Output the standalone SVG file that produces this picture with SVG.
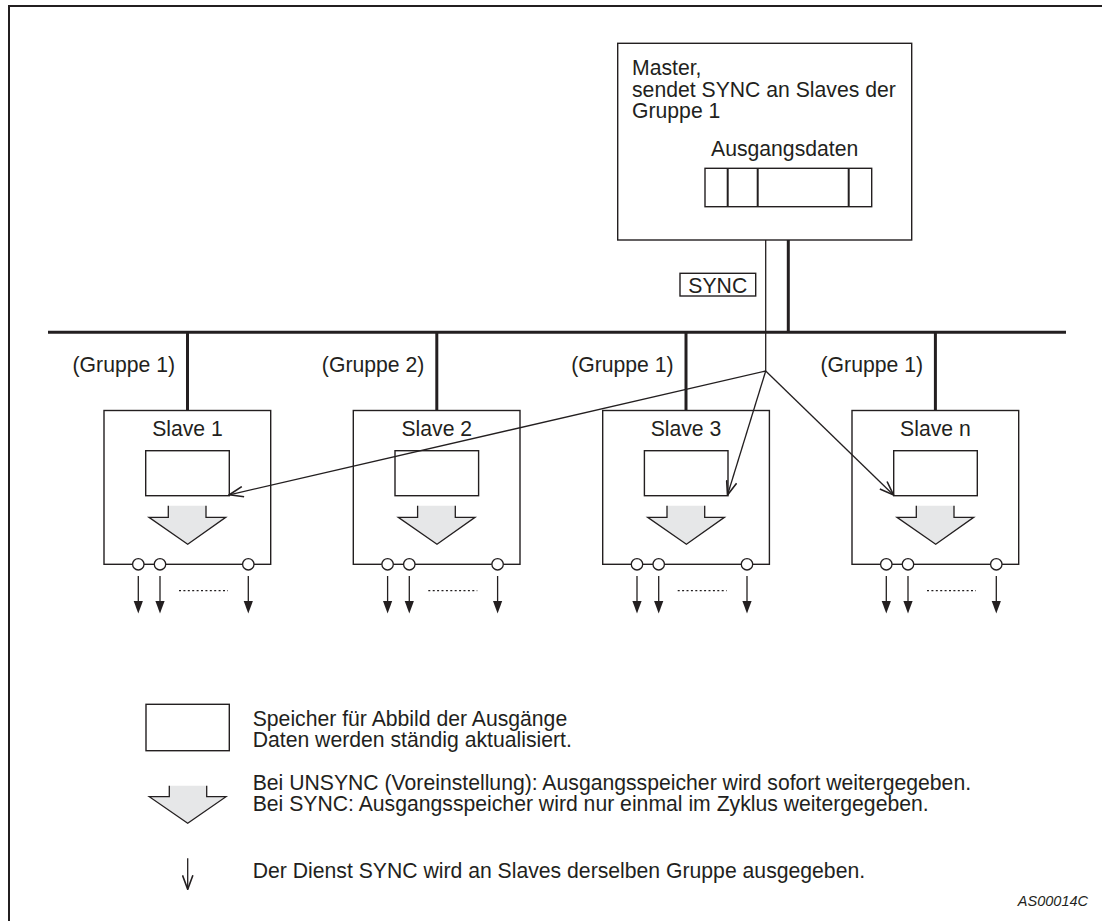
<svg xmlns="http://www.w3.org/2000/svg" width="1102" height="921" viewBox="0 0 1102 921">
  <style>
    text { font-family: "Liberation Sans", Arial, sans-serif; font-size: 21.2px; fill: #231f20; }
    .box { fill: #fff; stroke: #231f20; stroke-width: 1.4; }
    .thin { fill: none; stroke: #231f20; stroke-width: 1.3; }
    .thick { fill: none; stroke: #231f20; stroke-width: 3; }
    .div { fill: none; stroke: #231f20; stroke-width: 2; }
    .fill { fill: #e6e7e8; stroke: none; }
    .io { fill: #fff; stroke: #231f20; stroke-width: 1.3; }
    .dots { fill: none; stroke: #231f20; stroke-width: 1.2; stroke-dasharray: 2 2.4; }
    .mid { text-anchor: middle; }
    .end { text-anchor: end; }
  </style>
  <defs>
    <marker id="open" viewBox="0 0 16 12" refX="15" refY="6" markerWidth="16" markerHeight="12" markerUnits="userSpaceOnUse" orient="auto">
      <path d="M1,0.8 L15,6 L1,11.2" fill="none" stroke="#231f20" stroke-width="1.6"/>
    </marker>
    <!-- output terminal: down arrow -->
    <g id="out">
      <line x1="0" y1="576" x2="0" y2="602" class="thin" stroke-width="1.8"/>
      <path d="M-4.6,601 L4.6,601 L0,613.5 Z" fill="#231f20"/>
    </g>
    <!-- slave body drawn at origin x=0 -->
    <g id="slaveBody">
      <rect x="0" y="410.5" width="166.7" height="153.8" class="box"/>
      <rect x="41.7" y="450.7" width="83.6" height="45" class="box"/>
      <path d="M64.3,505.7 L64.3,517.3 L45,517.3 L83.7,544.3 L121.7,517.3 L102,517.3 L102,505.7 Z" class="fill"/>
      <path d="M64.3,505.7 L64.3,517.3 L45,517.3 L83.7,544.3 L121.7,517.3 L102,517.3 L102,505.7" class="thin"/>
      <use href="#out" x="34.3"/>
      <use href="#out" x="56"/>
      <use href="#out" x="144.3"/>
      <circle cx="34.3" cy="564.3" r="5.7" class="io"/>
      <circle cx="56" cy="564.3" r="5.7" class="io"/>
      <circle cx="144.3" cy="564.3" r="5.7" class="io"/>
      <line x1="75" y1="590.7" x2="124" y2="590.7" class="dots"/>
    </g>
  </defs>

  <!-- frame -->
  <path d="M9,921 L9,6 L1102,6" fill="none" stroke="#231f20" stroke-width="2"/>

  <!-- master -->
  <g id="master">
    <rect x="617.7" y="43.3" width="294" height="196.7" class="box"/>
    <text x="632" y="75">Master,</text>
    <text x="632" y="96.5">sendet SYNC an Slaves der</text>
    <text x="632" y="117.5">Gruppe 1</text>
    <text x="711" y="156">Ausgangsdaten</text>
    <rect x="705" y="168.3" width="166.7" height="38.4" class="box"/>
    <line x1="727.7" y1="168.3" x2="727.7" y2="206.7" class="div"/>
    <line x1="757.7" y1="168.3" x2="757.7" y2="206.7" class="div"/>
    <line x1="848.7" y1="168.3" x2="848.7" y2="206.7" class="div"/>
  </g>

  <!-- bus and drops -->
  <g id="connectors">
    <line x1="48" y1="332.3" x2="1066" y2="332.3" class="thick"/>
    <line x1="788.3" y1="240" x2="788.3" y2="332.3" class="thick"/>
    <line x1="765.7" y1="240" x2="765.7" y2="371" class="thin"/>
    <line x1="187.5" y1="332.3" x2="187.5" y2="410.5" class="thick"/>
    <line x1="436.8" y1="332.3" x2="436.8" y2="410.5" class="thick"/>
    <line x1="686" y1="332.3" x2="686" y2="410.5" class="thick"/>
    <line x1="935.4" y1="332.3" x2="935.4" y2="410.5" class="thick"/>
  </g>

  <!-- SYNC tag -->
  <g id="sync">
    <rect x="680" y="273.3" width="75.7" height="22.7" class="box"/>
    <text x="717.8" y="292.5" class="mid">SYNC</text>
  </g>

  <!-- slaves -->
  <g id="slave1">
    <text x="175" y="372" class="end">(Gruppe 1)</text>
    <use href="#slaveBody" x="104"/>
    <text x="187.5" y="435.5" class="mid">Slave 1</text>
  </g>
  <g id="slave2">
    <text x="424.3" y="372" class="end">(Gruppe 2)</text>
    <use href="#slaveBody" x="353.3"/>
    <text x="436.8" y="435.5" class="mid">Slave 2</text>
  </g>
  <g id="slave3">
    <text x="673.6" y="372" class="end">(Gruppe 1)</text>
    <use href="#slaveBody" x="602.7"/>
    <text x="686" y="435.5" class="mid">Slave 3</text>
  </g>
  <g id="slaven">
    <text x="923" y="372" class="end">(Gruppe 1)</text>
    <use href="#slaveBody" x="852"/>
    <text x="935.4" y="435.5" class="mid">Slave n</text>
  </g>

  <!-- SYNC distribution to group 1 -->
  <g id="sync-fan">
    <line x1="765.7" y1="371" x2="229.3" y2="494.8" class="thin" marker-end="url(#open)"/>
    <line x1="765.7" y1="371" x2="727.5" y2="495" class="thin" marker-end="url(#open)"/>
    <line x1="765.7" y1="371" x2="893.5" y2="495" class="thin" marker-end="url(#open)"/>
  </g>

  <!-- legend -->
  <g id="legend">
    <rect x="146" y="704.3" width="83.3" height="46.4" class="box"/>
    <text x="252.7" y="726">Speicher für Abbild der Ausgänge</text>
    <text x="252.7" y="747">Daten werden ständig aktualisiert.</text>
    <path d="M169.3,785.7 L169.3,796.7 L149.3,796.7 L187.7,823.3 L226,796.7 L206.7,796.7 L206.7,785.7 Z" class="fill"/>
    <path d="M169.3,785.7 L169.3,796.7 L149.3,796.7 L187.7,823.3 L226,796.7 L206.7,796.7 L206.7,785.7" class="thin"/>
    <text x="252.7" y="790">Bei UNSYNC (Voreinstellung): Ausgangsspeicher wird sofort weitergegeben.</text>
    <text x="252.7" y="811">Bei SYNC: Ausgangsspeicher wird nur einmal im Zyklus weitergegeben.</text>
    <line x1="187.7" y1="858.3" x2="187.7" y2="889.3" class="thin" marker-end="url(#open)"/>
    <text x="252.7" y="878">Der Dienst SYNC wird an Slaves derselben Gruppe ausgegeben.</text>
  </g>

  <text x="1088" y="906" class="end" font-style="italic" style="font-size:14.5px">AS00014C</text>
</svg>
